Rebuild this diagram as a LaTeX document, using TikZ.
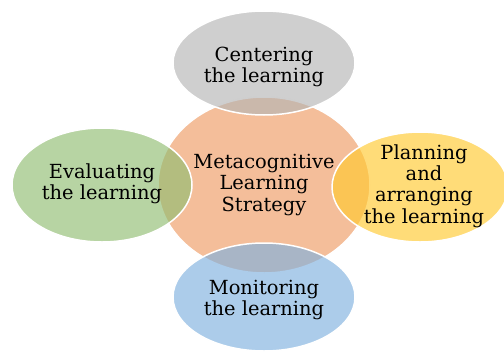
\documentclass[tikz,border=0pt]{standalone}
\usepackage{fontspec}
\setmainfont{DejaVu Serif}
\definecolor{metaorange}{HTML}{F4BE9A}
\definecolor{centergray}{HTML}{B5B5B5}
\definecolor{evalgreen}{HTML}{91BD72}
\definecolor{plangold}{HTML}{FFC930}
\definecolor{monitorblue}{HTML}{80B1DF}
\begin{document}
\begin{tikzpicture}[x=1bp,y=1bp,font=\fontsize{19.5}{21.5}\selectfont,
		blob/.style={draw=white,line width=1.5bp},
		lbl/.style={align=center,text=black,inner sep=0pt}]
				\clip (0,0) rectangle (504,352);
				\path (264,167) coordinate (M)
				(264,289) coordinate (T)
				(102,167) coordinate (L)
				(420,165) coordinate (R)
				(264,55) coordinate (B);
				% central ellipse
				\filldraw[blob,fill=metaorange] (M) ellipse [x radius=106,y radius=88];
				% satellites
				\foreach \p/\rx/\ry/\c in {T/91/52/centergray, L/90/57/evalgreen,
					R/88/55/plangold, B/91/54/monitorblue}{
					\filldraw[blob,fill=\c,fill opacity=0.65] (\p) ellipse [x radius=\rx,y radius=\ry];
				}
				\node[lbl] (meta) at (M) {Metacognitive\\Learning\\Strategy};
				\node[lbl] (center) at ([yshift=-4]T) {Centering\\the learning};
				\node[lbl] (eval) at ([yshift=1]L) {Evaluating\\the learning};
				\node[lbl] (plan) at ([xshift=4,yshift=1]R) {Planning\\and\\arranging\\the learning};
				\node[lbl] (monitor) at ([yshift=-3]B) {Monitoring\\the learning};
			\end{tikzpicture}
\end{document}
